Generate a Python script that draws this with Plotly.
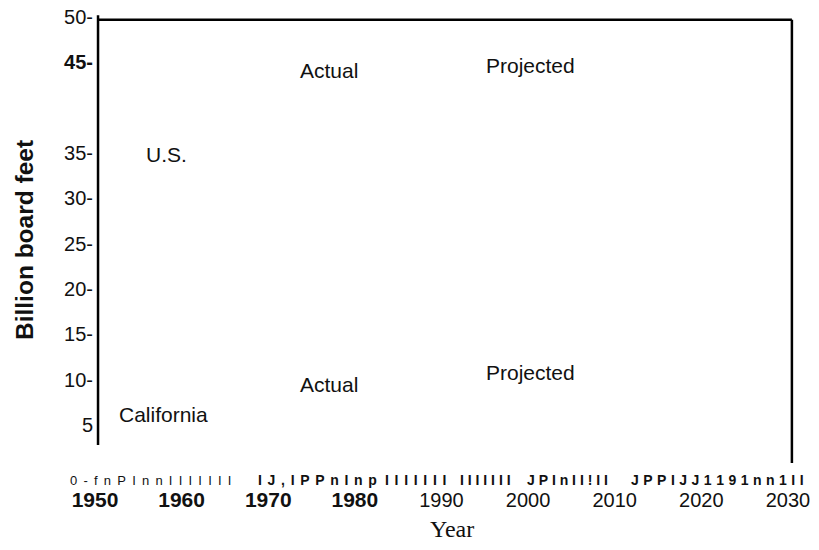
import plotly.graph_objects as go

# ---- data ----
y_tick_values = [50, 45, 35, 30, 25, 20, 15, 10, 5]
y_tick_labels = ["50-", "<b>45-</b>", "35-", "30-", "25-", "20-", "15-", "10-", "5"]

x_tick_years = [1950, 1960, 1970, 1980, 1990, 2000, 2010, 2020, 2030]
x_tick_bold = [True, True, True, True, False, False, False, False, False]

label_texts = ["Actual", "Projected", "U.S.", "Actual", "Projected", "California"]
label_years = [1977.0, 2000.3, 1958.3, 1977.0, 2000.3, 1957.85]
label_values = [44.15, 44.6, 34.8, 9.5, 10.75, 6.2]

# garbled tick-mark row under the axis (as printed in the source)
row_texts = ["0-fnPInnIIIIIII", "IJ,IPPnInp", "IIIIIII", "IIIIIII", "JPInII!II", "JPPIJJ1191nn1II"]
row_years = [1956.5, 1975.7, 1987.1, 1995.1, 2004.5, 2021.9]
row_bold = [False, True, True, True, True, True]
row_spacing = [1.3, 0.9, 0.9, 0.0, 0.0, 0.3]

x_range = [1945.96, 2032.54]
y_range = [-1.73, 50.22]

FONT = "Liberation Sans, Arial, sans-serif"
SERIF = "Liberation Serif, Times New Roman, serif"

# page body has an 8px margin; plot area sits at window px x 60..810, y 15..486
PAGE_OFFSET = 8
PLOT_L, PLOT_T, PLOT_W, PLOT_H = 60, 15, 750, 471
W, H = 819 - 2 * PAGE_OFFSET, 550 - 2 * PAGE_OFFSET

fig = go.Figure()
# invisible trace to establish the axes
fig.add_trace(go.Scatter(x=[x_tick_years[0], x_tick_years[-1]], y=[y_tick_values[-1], y_tick_values[0]],
                         mode="markers", marker=dict(opacity=0), hoverinfo="skip", showlegend=False))

x_ticktext = [f'<b><span style="font-size:21px">{y}</span></b>' if b else str(y)
              for y, b in zip(x_tick_years, x_tick_bold)]

annotations = []
for t, xv, yv in zip(label_texts, label_years, label_values):
    annotations.append(dict(x=xv, y=yv, xref="x", yref="y", text=t, showarrow=False,
                            xanchor="center", yanchor="middle",
                            font=dict(family=FONT, size=21, color="#111")))

row_y = -1.07
for t, xv, b, ls in zip(row_texts, row_years, row_bold, row_spacing):
    spaced = "\u00a0".join(list(t))
    txt = f'<span style="letter-spacing:{ls}px">{spaced}</span>'
    if b:
        txt = f"<b>{txt}</b>"
    annotations.append(dict(x=xv, y=row_y, xref="x", yref="y", text=txt, showarrow=False,
                            xanchor="center", yanchor="middle",
                            font=dict(family=FONT, size=13 if not b else 14, color="#111")))

bottom = PLOT_T + PLOT_H
annotations.append(dict(x=(452 - PLOT_L) / PLOT_W, y=-(529 - bottom) / PLOT_H, xref="paper", yref="paper",
                        text="Year", showarrow=False, xanchor="center", yanchor="middle",
                        font=dict(family=SERIF, size=24, color="#111")))
annotations.append(dict(x=(24 - PLOT_L) / PLOT_W, y=(bottom - 240) / PLOT_H, xref="paper", yref="paper",
                        text="<b>Billion board feet</b>", textangle=-90, showarrow=False,
                        xanchor="center", yanchor="middle",
                        font=dict(family=FONT, size=24.5, color="#111")))

frame_left, frame_right = 1950.35, 2030.45
shapes = [
    dict(type="line", xref="x", yref="y", x0=frame_left, x1=frame_left, y0=2.8, y1=50.2,
         line=dict(color="black", width=2.5)),
    dict(type="line", xref="x", yref="y", x0=frame_left, x1=frame_right, y0=49.7, y1=49.7,
         line=dict(color="black", width=2.5)),
    dict(type="line", xref="x", yref="y", x0=frame_right, x1=frame_right, y0=49.7, y1=0.8,
         line=dict(color="black", width=2.5)),
]

ml = PLOT_L - PAGE_OFFSET
mt = PLOT_T - PAGE_OFFSET
fig.update_layout(
    width=W, height=H,
    margin=dict(l=ml, r=W - ml - PLOT_W, t=mt, b=H - mt - PLOT_H, pad=0),
    paper_bgcolor="white", plot_bgcolor="white",
    showlegend=False,
    xaxis=dict(range=x_range, tickvals=x_tick_years, ticktext=x_ticktext, showgrid=False,
               zeroline=False, showline=False, ticks="", automargin=False, ticklabeloverflow="allow",
               tickfont=dict(family=FONT, size=20, color="#111")),
    yaxis=dict(range=y_range, tickvals=y_tick_values, ticktext=y_tick_labels, showgrid=False,
               zeroline=False, showline=False, ticks="", anchor="free", position=(98 - PLOT_L) / PLOT_W,
               automargin=False, ticklabelstandoff=5, ticklabeloverflow="allow",
               tickfont=dict(family=FONT, size=20, color="#111")),
    annotations=annotations,
    shapes=shapes,
)

fig.write_html("out.html")
